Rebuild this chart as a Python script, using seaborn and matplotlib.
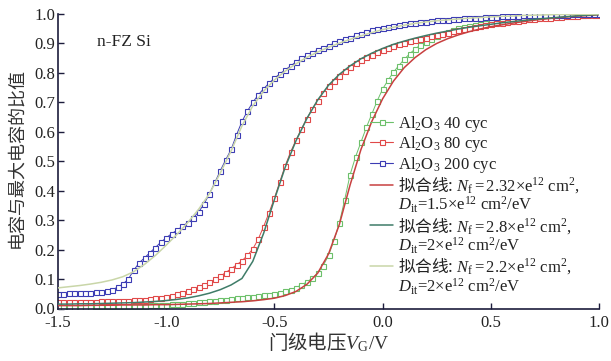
import numpy as np
import pandas as pd
import matplotlib
matplotlib.use("Agg")
import matplotlib.pyplot as plt
from matplotlib.lines import Line2D
import seaborn as sns

# ---------------- data ----------------
vg_data = [round(-1.5 + 0.025 * i, 3) for i in range(101)]

cyc40 = [0.005, 0.005, 0.005, 0.006, 0.006, 0.006, 0.006, 0.007, 0.007, 0.007,
         0.008, 0.008, 0.008, 0.009, 0.009, 0.010, 0.010, 0.011, 0.012, 0.012,
         0.013, 0.014, 0.015, 0.016, 0.018, 0.019, 0.021, 0.023, 0.025, 0.027,
         0.028, 0.030, 0.032, 0.034, 0.036, 0.038, 0.040, 0.042, 0.045, 0.047,
         0.050, 0.054, 0.058, 0.064, 0.071, 0.080, 0.090, 0.103, 0.120, 0.145,
         0.180, 0.230, 0.290, 0.370, 0.455, 0.515, 0.565, 0.615, 0.660, 0.705,
         0.745, 0.775, 0.802, 0.825, 0.846, 0.865, 0.881, 0.895, 0.906, 0.916,
         0.925, 0.933, 0.940, 0.946, 0.951, 0.955, 0.959, 0.963, 0.966, 0.969,
         0.972, 0.975, 0.978, 0.980, 0.983, 0.985, 0.987, 0.988, 0.990, 0.991,
         0.993, 0.994, 0.995, 0.996, 0.997, 0.997, 0.998, 0.998, 0.999, 1.000,
         1.000]

cyc80 = [0.022, 0.022, 0.022, 0.022, 0.022, 0.023, 0.023, 0.023, 0.024, 0.024,
         0.025, 0.025, 0.026, 0.027, 0.028, 0.029, 0.030, 0.032, 0.034, 0.036,
         0.039, 0.043, 0.048, 0.053, 0.059, 0.065, 0.072, 0.080, 0.089, 0.099,
         0.110, 0.122, 0.135, 0.148, 0.162, 0.180, 0.202, 0.235, 0.278, 0.325,
         0.375, 0.430, 0.485, 0.532, 0.572, 0.610, 0.645, 0.678, 0.706, 0.732,
         0.755, 0.774, 0.790, 0.806, 0.819, 0.832, 0.843, 0.853, 0.862, 0.870,
         0.878, 0.885, 0.891, 0.897, 0.902, 0.907, 0.912, 0.916, 0.920, 0.924,
         0.929, 0.933, 0.937, 0.941, 0.945, 0.949, 0.952, 0.955, 0.959, 0.962,
         0.965, 0.968, 0.970, 0.972, 0.975, 0.977, 0.979, 0.982, 0.984, 0.985,
         0.987, 0.988, 0.990, 0.991, 0.992, 0.993, 0.994, 0.995, 0.996, 0.997,
         0.998]

cyc200 = [0.050, 0.050, 0.051, 0.051, 0.052, 0.053, 0.054, 0.055, 0.057, 0.060,
          0.064, 0.072, 0.083, 0.100, 0.130, 0.155, 0.172, 0.190, 0.207, 0.225,
          0.240, 0.254, 0.266, 0.279, 0.292, 0.308, 0.328, 0.355, 0.390, 0.428,
          0.468, 0.505, 0.540, 0.590, 0.635, 0.670, 0.700, 0.725, 0.746, 0.765,
          0.782, 0.797, 0.810, 0.824, 0.837, 0.849, 0.860, 0.869, 0.877, 0.885,
          0.893, 0.900, 0.907, 0.914, 0.920, 0.927, 0.933, 0.939, 0.944, 0.949,
          0.954, 0.957, 0.960, 0.963, 0.966, 0.968, 0.970, 0.972, 0.974, 0.976,
          0.978, 0.980, 0.981, 0.982, 0.984, 0.985, 0.986, 0.987, 0.988, 0.989,
          0.990, 0.991, 0.992, 0.993, 0.993, 0.994, 0.995, 0.995, 0.996, 0.996,
          0.997, 0.997, 0.998, 0.998, 0.998, 0.999, 0.999, 0.999, 1.000, 1.000,
          1.000]

vg_fit = [round(-1.5 + 0.05 * i, 2) for i in range(51)]

fit_a = [0.010, 0.010, 0.010, 0.011, 0.011, 0.011, 0.012, 0.012, 0.012, 0.013,
         0.013, 0.014, 0.015, 0.016, 0.017, 0.019, 0.021, 0.023, 0.026, 0.030,
         0.035, 0.044, 0.058, 0.082, 0.120, 0.185, 0.285, 0.420, 0.540, 0.635,
         0.712, 0.772, 0.818, 0.852, 0.879, 0.900, 0.916, 0.929, 0.940, 0.949,
         0.957, 0.963, 0.969, 0.974, 0.979, 0.983, 0.987, 0.990, 0.993, 0.995,
         0.998]

fit_b = [0.015, 0.015, 0.016, 0.016, 0.017, 0.018, 0.019, 0.020, 0.022, 0.024,
         0.027, 0.031, 0.036, 0.043, 0.052, 0.064, 0.080, 0.102, 0.160, 0.255,
         0.370, 0.480, 0.570, 0.645, 0.708, 0.758, 0.795, 0.824, 0.848, 0.867,
         0.883, 0.897, 0.908, 0.918, 0.927, 0.935, 0.942, 0.949, 0.955, 0.960,
         0.965, 0.970, 0.974, 0.978, 0.982, 0.985, 0.988, 0.991, 0.994, 0.996,
         0.998]

fit_c = [0.070, 0.074, 0.078, 0.083, 0.089, 0.097, 0.108, 0.125, 0.150, 0.180,
         0.215, 0.252, 0.292, 0.337, 0.390, 0.460, 0.535, 0.620, 0.688, 0.738,
         0.776, 0.806, 0.831, 0.853, 0.871, 0.887, 0.901, 0.914, 0.926, 0.937,
         0.947, 0.955, 0.962, 0.968, 0.973, 0.977, 0.980, 0.983, 0.986, 0.988,
         0.990, 0.992, 0.993, 0.995, 0.996, 0.997, 0.998, 0.998, 0.999, 0.999,
         1.000]

x_ticks = [-1.5, -1.0, -0.5, 0.0, 0.5, 1.0]
y_ticks = [0.0, 0.1, 0.2, 0.3, 0.4, 0.5, 0.6, 0.7, 0.8, 0.9, 1.0]

data_labels = [r"Al$_2$O$_3$ 40 cyc", r"Al$_2$O$_3$ 80 cyc", r"Al$_2$O$_3$ 200 cyc"]
fit_labels = [
    (r"拟合线: $N_{\mathrm{f}}{=}2.32{\times}\mathrm{e}^{12}\ \mathrm{cm}^{2}\mathrm{,}$",
     r"$D_{\mathrm{it}}$=1.5×e$^{12}$ cm$^{2}$/eV"),
    (r"拟合线: $N_{\mathrm{f}}{=}2.8{\times}\mathrm{e}^{12}\ \mathrm{cm}^{2}\mathrm{,}$",
     r"$D_{\mathrm{it}}$=2×e$^{12}$ cm$^{2}$/eV"),
    (r"拟合线: $N_{\mathrm{f}}{=}2.2{\times}\mathrm{e}^{12}\ \mathrm{cm}^{2}\mathrm{,}$",
     r"$D_{\mathrm{it}}$=2×e$^{12}$ cm$^{2}$/eV"),
]

# ---------------- style ----------------
sns.set_theme(style="ticks")
plt.rcParams["font.family"] = ["Liberation Serif", "Noto Sans CJK SC", "DejaVu Sans"]
plt.rcParams["mathtext.fontset"] = "custom"
plt.rcParams["mathtext.rm"] = "Liberation Serif"
plt.rcParams["mathtext.it"] = "Liberation Serif:italic"
plt.rcParams["mathtext.bf"] = "Liberation Serif:bold"

data_colors = ["#6cc06a", "#e04848", "#3c3cb4"]
fit_colors = ["#c84040", "#3f7c68", "#c9d6a8"]
spine_color = "#1c1c3c"

fig = plt.figure(figsize=(6.11, 3.61), dpi=100)
ax = fig.add_axes([58 / 611, 1 - 308.5 / 361, 541 / 611, 294.5 / 361])

df = pd.DataFrame({"vg": vg_data, "c40": cyc40, "c80": cyc80, "c200": cyc200})
dff = pd.DataFrame({"vg": vg_fit, "fa": fit_a, "fb": fit_b, "fc": fit_c})

for col, c in zip(["c40", "c80", "c200"], data_colors):
    sns.lineplot(data=df, x="vg", y=col, ax=ax, color=c, lw=0.7, marker="s",
                 markersize=3.6, markerfacecolor="white", markeredgecolor=c,
                 markeredgewidth=0.8, legend=False, zorder=2)

for col, c in zip(["fa", "fb", "fc"], fit_colors):
    sns.lineplot(data=dff, x="vg", y=col, ax=ax, color=c, lw=1.1, legend=False, zorder=3)

ax.set_xlim(-1.5, 1.0)
ax.set_ylim(0.0, 1.0)
ax.set_xticks(x_ticks)
ax.set_yticks(y_ticks)
ax.set_xticklabels([f"{v:.1f}" for v in x_ticks], fontsize=12)
ax.set_yticklabels([f"{v:.1f}" for v in y_ticks], fontsize=12)
ax.tick_params(direction="in", length=4, width=1.0, colors=spine_color, labelcolor="#222222")
ax.tick_params(axis="x", pad=5)
ax.tick_params(axis="y", pad=2)
for s in ["top", "right"]:
    ax.spines[s].set_visible(False)
for s in ["left", "bottom"]:
    ax.spines[s].set_color(spine_color)
    ax.spines[s].set_linewidth(1.2)

ax.set_xlabel(r"门级电压$V_{\mathrm{G}}\mathrm{/V}$", fontsize=14,
              family=["Noto Sans CJK SC", "DejaVu Sans"], color="#333333")
ax.set_ylabel("电容与最大电容的比值", fontsize=13,
              family=["Noto Sans CJK SC", "DejaVu Sans"], color="#333333")
ax.xaxis.set_label_coords(0.5, -0.075)
ax.yaxis.set_label_coords(-0.06, 0.51)

ax.text(-1.32, 0.905, "n-FZ Si", fontsize=12.5, color="#222222", va="center", ha="left")

# legend
handles, labels = [], []
for lab, c in zip(data_labels, data_colors):
    handles.append(Line2D([], [], color=c, lw=0.8, marker="s", markersize=3.6,
                          markerfacecolor="white", markeredgecolor=c, markeredgewidth=0.8))
    labels.append(lab)
for (l1, l2), c in zip(fit_labels, fit_colors):
    handles.append(Line2D([], [], color=c, lw=1.1))
    labels.append(l1)
    handles.append(Line2D([], [], color="none", lw=0))
    labels.append(l2)

leg = ax.legend(handles, labels, loc="upper left", bbox_to_anchor=(312 / 541, 1 - (114 - 14) / 294.5),
                frameon=False, fontsize=12, handlelength=1.4, handletextpad=0.25,
                labelspacing=0.02, borderpad=0.0, borderaxespad=0.0)
for t in leg.get_texts():
    t.set_color("#222222")
    if "拟合线" in t.get_text():
        t.set_family(["Noto Sans CJK SC"])

fig.savefig("out.png", dpi=100)
